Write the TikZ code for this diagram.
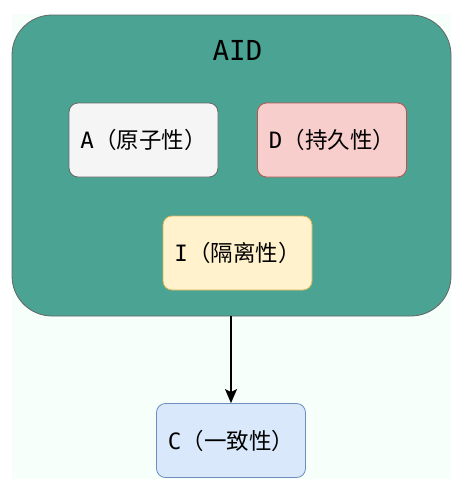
\documentclass[tikz,border=0pt]{standalone}
\usepackage{fontspec}
\usetikzlibrary{arrows.meta}
\newfontfamily\cjk{Noto Sans CJK SC}
\newfontfamily\mono{DejaVu Sans Mono}
\definecolor{bgc}{HTML}{F6FFF9}
\definecolor{teal}{HTML}{4BA393}
\definecolor{aF}{HTML}{F5F5F5}\definecolor{aD}{HTML}{666666}
\definecolor{dF}{HTML}{F8CECC}\definecolor{dD}{HTML}{B85450}
\definecolor{iF}{HTML}{FFF2CC}\definecolor{iD}{HTML}{D6B656}
\definecolor{cF}{HTML}{DAE8FC}\definecolor{cD}{HTML}{6C8EBF}
\tikzset{
  box/.style={rounded corners=9pt, line width=0.8pt, minimum width=149pt, minimum height=74pt, inner sep=0pt, font=\fontsize{22.5}{24}\selectfont},
}
\newcommand{\lbl}[2]{{\mono #1}{\cjk （#2）}}
\begin{document}
\begin{tikzpicture}[x=1pt,y=-1pt]
\useasboundingbox (0,0) rectangle (465,491);
\fill[bgc] (12,14) rectangle (451,479);
\node[draw=aD, fill=teal, rounded corners=40pt, line width=0.8pt, minimum width=439pt, minimum height=301pt, inner sep=0pt] (outer) at (231.5,165.5) {};
\node[font=\mono\fontsize{27.5}{30}\selectfont] (title) at (237.5,50) {AID};
\node[box, draw=aD, fill=aF] (A) at (143.5,140) {\lbl{A}{原子性}};
\node[box, draw=dD, fill=dF] (D) at (332,140) {\lbl{D}{持久性}};
\node[box, draw=iD, fill=iF] (I) at (237.5,253) {\lbl{I}{隔离性}};
\node[box, draw=cD, fill=cF] (C) at (231,440.5) {\lbl{C}{一致性}};
\draw[-{Stealth[length=14pt,width=12pt,inset=3pt]}, line width=1.6pt] (outer.south -| C.north) -- (C.north);
\end{tikzpicture}
\end{document}
